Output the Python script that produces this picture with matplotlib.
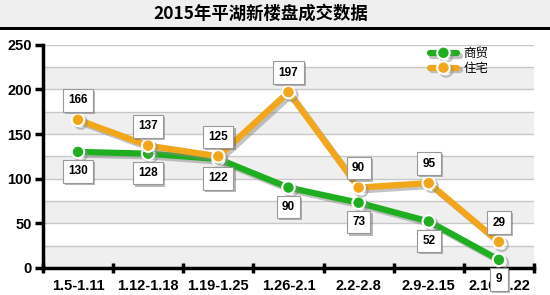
import matplotlib.pyplot as plt
import matplotlib.patheffects as pe
from matplotlib.patches import Rectangle

plt.rcParams['font.family'] = ['Liberation Sans', 'Noto Sans CJK SC', 'DejaVu Sans']

periodos = ['1.5-1.11', '1.12-1.18', '1.19-1.25', '1.26-2.1', '2.2-2.8', '2.9-2.15', '2.16-2.22']
shangmao = [130, 128, 122, 90, 73, 52, 9]
zhuzhai = [166, 137, 125, 197, 90, 95, 29]
titulo = '2015年平湖新楼盘成交数据'

verde = '#1fae1f'
naranja = '#f2a71b'

fig = plt.figure(figsize=(5.5, 2.95), dpi=100)
# banda del titulo
fig.patches.append(Rectangle((0, 0.905), 1, 0.095, transform=fig.transFigure,
                             facecolor='#efefef', edgecolor='none', zorder=0))
fig.patches.append(Rectangle((0, 0.897), 1, 0.012, transform=fig.transFigure,
                             facecolor='black', edgecolor='none', zorder=1))
fig.text(0.475, 0.955, titulo, ha='center', va='center', fontsize=12.5, fontweight='bold',
         family=['Noto Sans CJK SC', 'DejaVu Sans'])

ax = fig.add_axes([0.078, 0.092, 0.893, 0.756])
x = list(range(len(periodos)))
ax.set_xlim(-0.5, len(periodos) - 0.5)
ax.set_ylim(0, 250)

# bandas alternas
for y0 in range(0, 250, 50):
    ax.axhspan(y0, y0 + 25, color='#efefef', zorder=0, lw=0)
for y0 in range(25, 251, 25):
    ax.axhline(y0, color='#c8c8c8', lw=1, zorder=1)

sombra = [pe.SimpleLineShadow(offset=(2, -2), shadow_color='#888888', alpha=0.5), pe.Normal()]
ax.plot(x, shangmao, color=verde, lw=4.5, marker='o', ms=9, mfc=verde, mec='white', mew=1.5,
        zorder=3, path_effects=sombra, label='商贸', solid_capstyle='round')
ax.plot(x, zhuzhai, color=naranja, lw=4.5, marker='o', ms=9, mfc=naranja, mec='white', mew=1.5,
        zorder=4, path_effects=sombra, label='住宅', solid_capstyle='round')

caja = dict(boxstyle='square,pad=0.45', fc='white', ec='#999999', lw=0.8,
            path_effects=[pe.withSimplePatchShadow(offset=(1.5, -1.5), alpha=0.4)])
for i, v in enumerate(shangmao):
    ax.annotate(str(v), (i, v), xytext=(0, -14), textcoords='offset points', ha='center',
                va='center', fontsize=8.5, fontweight='bold', bbox=caja, zorder=6,
                annotation_clip=False)
for i, v in enumerate(zhuzhai):
    ax.annotate(str(v), (i, v), xytext=(0, 14), textcoords='offset points', ha='center',
                va='center', fontsize=8.5, fontweight='bold', bbox=caja, zorder=6,
                annotation_clip=False)

for s in ['top', 'right']:
    ax.spines[s].set_visible(False)
for s in ['left', 'bottom']:
    ax.spines[s].set_linewidth(2.5)
ax.set_yticks(range(0, 251, 50))
ax.set_xticks([i - 0.5 for i in range(len(periodos) + 1)])
ax.set_xticklabels([])
ax.set_xticks(x, minor=True)
ax.set_xticklabels(periodos, minor=True)
ax.tick_params(axis='x', which='major', length=7, width=2.5, direction='inout')
ax.tick_params(axis='x', which='minor', length=0, pad=8)
ax.tick_params(axis='y', length=6, width=2.5, direction='out', pad=2)
for t in ax.get_xticklabels(minor=True) + ax.get_yticklabels():
    t.set_fontweight('bold')
    t.set_fontsize(10.5)

leg = ax.legend(loc='upper right', bbox_to_anchor=(0.93, 1.04), frameon=False,
                prop={'family': ['Noto Sans CJK SC', 'DejaVu Sans'], 'size': 9},
                handlelength=2.2, labelspacing=0.15, handletextpad=0.5)

fig.savefig('out.png', dpi=100)
